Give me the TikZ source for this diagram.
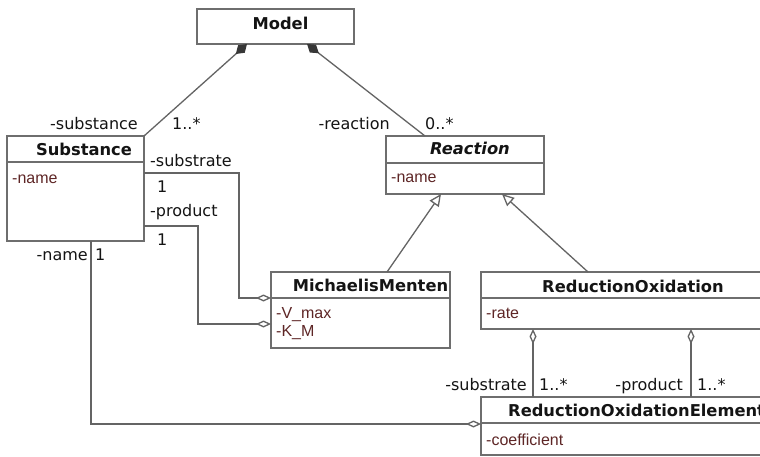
\documentclass[tikz,border=0pt]{standalone}
\usepackage{fontspec}
\setmainfont{DejaVu Sans}
\newfontfamily\attrfont{Liberation Sans}
\usetikzlibrary{arrows.meta,calc}
\definecolor{ln}{RGB}{100,100,100}
\definecolor{bd}{RGB}{110,110,110}
\definecolor{attrc}{RGB}{94,38,38}
\definecolor{dia}{RGB}{55,55,55}
\definecolor{txt}{RGB}{20,20,20}
\begin{document}
\begin{tikzpicture}[x=1pt,y=-1pt,
  box/.style={draw=bd,line width=1.6pt,fill=white,inner sep=0pt,outer sep=0pt},
  sepline/.style={draw=bd,line width=1.6pt},
  title/.style={inner sep=0pt,anchor=base,text=txt,font=\fontsize{16.3}{19}\selectfont\bfseries},
  attr/.style={inner sep=0pt,anchor=base west,text=attrc,font=\fontsize{16}{19}\selectfont\attrfont},
  lblr/.style={inner sep=0pt,anchor=base east,text=txt,font=\fontsize{16}{19}\selectfont},
  lbll/.style={inner sep=0pt,anchor=base west,text=txt,font=\fontsize{16}{19}\selectfont},
  conn/.style={draw=ln,line width=1.3pt},
  comp/.style={conn,{Diamond[length=15pt,width=10pt,fill=dia,color=dia]}-},
  aggend/.style={conn,-{Diamond[open,length=15pt,width=7pt,fill=white]}},
  aggstart/.style={conn,{Diamond[open,length=15pt,width=7pt,fill=white]}-},
  gen/.style={conn,-{Triangle[open,length=12pt,width=11pt,fill=white]}}
]
\clip (0,0) rectangle (760,457);
\fill[white] (0,0) rectangle (760,457);

% boxes
\node[box,minimum width=157pt,minimum height=35pt] (model) at (275.5,26.5) {};
\node[box,minimum width=137pt,minimum height=105pt] (sub) at (75.5,188.5) {};
\node[box,minimum width=158pt,minimum height=58pt] (react) at (465,165) {};
\node[box,minimum width=179pt,minimum height=76pt] (mm) at (360.5,310) {};
\node[box,minimum width=294pt,minimum height=57pt] (ro) at (628,300.5) {};
\node[box,minimum width=294pt,minimum height=58pt] (roe) at (628,426) {};

% separators
\draw[sepline] ($(sub.north west)+(0,26)$) -- ($(sub.north east)+(0,26)$);
\draw[sepline] ($(react.north west)+(0,27)$) -- ($(react.north east)+(0,27)$);
\draw[sepline] ($(mm.north west)+(0,26)$) -- ($(mm.north east)+(0,26)$);
\draw[sepline] ($(ro.north west)+(0,26)$) -- ($(ro.north east)+(0,26)$);
\draw[sepline] ($(roe.north west)+(0,26)$) -- ($(roe.north east)+(0,26)$);

% titles
\node[title] (tmodel) at (280.5,30) {Model};
\node[title] (tsub) at (84,156) {Substance};
\node[title] (treact) at (470,155) {\itshape Reaction};
\node[title] (tmm) at (370.5,291) {MichaelisMenten};
\node[title] (tro) at (633,292) {ReductionOxidation};
\node[title,anchor=base west] (troe) at (508,416.7) {ReductionOxidationElement};

% attributes
\node[attr] (asub) at (12,183.3) {-name};
\node[attr] (areact) at (391,182.7) {-name};
\node[attr] (avmax) at (276,318.3) {-V\_max};
\node[attr] (akm) at (276,336) {-K\_M};
\node[attr] (arate) at (486,318.3) {-rate};
\node[attr] (acoef) at (486,445) {-coefficient};

% compositions from Model
\draw[comp] ($(model.south west)+(50,0)$) -- (sub.north east);
\draw[comp] ($(model.south west)+(110,0)$) -- ($(react.north west)+(39,0)$);

% generalizations
\draw[gen] ($(mm.north west)+(116,0)$) -- ($(react.south west)+(55,0)$);
\draw[gen] ($(ro.north west)+(107,0)$) -- ($(react.south west)+(116,0)$);

% aggregations
\draw[aggend] ($(sub.north east)+(0,37)$) -- ++(95,0) |- ($(mm.north west)+(0,26)$);
\draw[aggend] ($(sub.north east)+(0,90)$) -- ++(54,0) |- ($(mm.north west)+(0,52)$);
\draw[aggend] ($(sub.south west)+(84,0)$) |- ($(roe.north west)+(0,27)$);
\draw[aggstart] ($(ro.south west)+(52,0)$) -- ($(roe.north west)+(52,0)$);
\draw[aggstart] ($(ro.south west)+(210,0)$) -- ($(roe.north west)+(210,0)$);

% labels
\node[lblr] (l1) at (138,129.5) {-substance};
\node[lbll] (l2) at (172,129.5) {1..*};
\node[lblr] (l3) at (390,129.5) {-reaction};
\node[lbll] (l4) at (425,129.5) {0..*};
\node[lbll] (l5) at (150,166.7) {-substrate};
\node[lbll] (l6) at (157,193) {1};
\node[lbll] (l7) at (150,216.7) {-product};
\node[lbll] (l8) at (157,245) {1};
\node[lblr] (l9) at (88,260) {-name};
\node[lbll] (l10) at (95,260) {1};
\node[lblr] (l11) at (527,390.7) {-substrate};
\node[lbll] (l12) at (539,390.7) {1..*};
\node[lblr] (l13) at (683,390.7) {-product};
\node[lbll] (l14) at (697,390.7) {1..*};
\end{tikzpicture}
\end{document}
